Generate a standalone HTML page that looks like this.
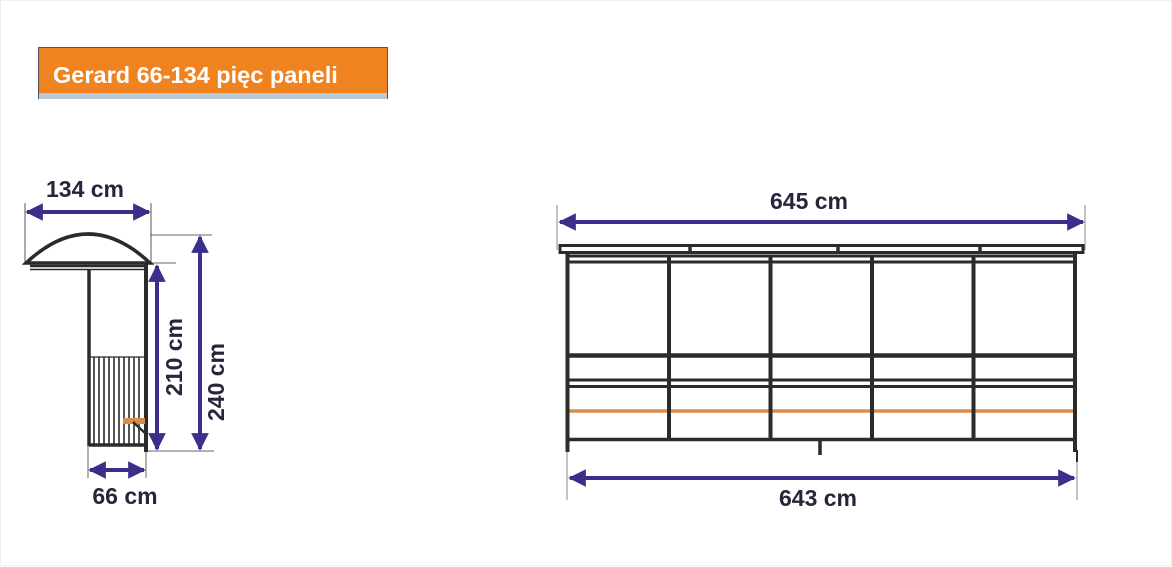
<!DOCTYPE html>
<html><head><meta charset="utf-8"><style>
body{margin:0;background:#fff}
svg{display:block}
text{font-family:"Liberation Sans",sans-serif;font-weight:bold;fill:#26263a}
</style></head><body>
<svg width="1172" height="567" viewBox="0 0 1172 567" xmlns="http://www.w3.org/2000/svg">
<defs>
<marker id="a" viewBox="0 0 10 10" refX="9" refY="5" markerWidth="4.4" markerHeight="4.6" orient="auto-start-reverse"><path d="M0,0L10,5L0,10z" fill="#3a2f8a"/></marker>
</defs>
<rect x="0.5" y="0.5" width="1171" height="565" fill="none" stroke="#eee"/>
<!-- title -->
<rect x="38" y="47" width="350" height="52" fill="#555"/>
<rect x="39" y="48" width="348" height="45" fill="#ee8320"/>
<rect x="39" y="93" width="348" height="6" fill="#b7c9d6"/>
<text x="53" y="83" font-size="23.5" style="fill:#fff">Gerard 66-134 pięc paneli</text>

<g stroke="#2b2b2b" fill="none">
<!-- left view -->
<line x1="25" y1="203" x2="25" y2="262" stroke="#555" stroke-width="1"/>
<line x1="151" y1="203" x2="151" y2="262" stroke="#555" stroke-width="1"/>
<line x1="150" y1="235" x2="212" y2="235" stroke="#666" stroke-width="1"/>
<line x1="150" y1="263" x2="176" y2="263" stroke="#666" stroke-width="1"/>
<line x1="146" y1="451" x2="214" y2="451" stroke="#666" stroke-width="1"/>
<line x1="88" y1="446" x2="88" y2="478" stroke="#666" stroke-width="1"/>
<line x1="146" y1="451" x2="146" y2="478" stroke="#666" stroke-width="1"/>
<path d="M26,263 Q88,205 150,263 Z" stroke-width="3.5" fill="#fff"/>
<line x1="30" y1="266" x2="146" y2="266" stroke-width="2.5"/>
<line x1="30" y1="269.5" x2="146" y2="269.5" stroke-width="1.5"/>
<line x1="89" y1="270" x2="89" y2="446" stroke-width="3.5"/>
<line x1="146" y1="262" x2="146" y2="452" stroke-width="4"/>
<line x1="89" y1="445" x2="146" y2="445" stroke-width="3.5"/>
<line x1="90" y1="357" x2="145" y2="357" stroke-width="1.2"/>
<g stroke-width="1.6">
<line x1="94" y1="357" x2="94" y2="445"/><line x1="99" y1="357" x2="99" y2="445"/><line x1="104" y1="357" x2="104" y2="445"/><line x1="109" y1="357" x2="109" y2="445"/><line x1="114" y1="357" x2="114" y2="445"/><line x1="119" y1="357" x2="119" y2="445"/><line x1="124" y1="357" x2="124" y2="445"/><line x1="129" y1="357" x2="129" y2="445"/><line x1="134" y1="357" x2="134" y2="445"/><line x1="139" y1="357" x2="139" y2="445"/>
</g>
<rect x="123" y="418" width="22" height="6" fill="#d98d4c" stroke="none"/>
<line x1="133" y1="422" x2="145" y2="433" stroke-width="2.5"/>

<!-- right view -->
<line x1="557" y1="205" x2="557" y2="250" stroke="#888" stroke-width="1"/>
<line x1="1085" y1="205" x2="1085" y2="250" stroke="#888" stroke-width="1"/>
<line x1="567" y1="452" x2="567" y2="500" stroke="#888" stroke-width="1"/>
<line x1="1077" y1="462" x2="1077" y2="500" stroke="#888" stroke-width="1"/>
<rect x="560" y="245.5" width="523" height="7" stroke-width="3" fill="#fff"/>
<line x1="690" y1="246" x2="690" y2="252" stroke-width="3.5"/>
<line x1="838" y1="246" x2="838" y2="252" stroke-width="3.5"/>
<line x1="980" y1="246" x2="980" y2="252" stroke-width="3.5"/>
<line x1="567" y1="256" x2="1075" y2="256" stroke-width="3"/>
<line x1="567" y1="262" x2="1075" y2="262" stroke-width="3"/>
<line x1="567" y1="355.5" x2="1075" y2="355.5" stroke-width="4.5"/>
<line x1="567" y1="380" x2="1075" y2="380" stroke-width="3"/>
<line x1="567" y1="386.5" x2="1075" y2="386.5" stroke-width="3"/>
<line x1="567" y1="439.5" x2="1075" y2="439.5" stroke-width="3.5"/>
<line x1="569" y1="411" x2="1073" y2="411" stroke="#d98d4c" stroke-width="3.5"/>
<line x1="567.5" y1="253" x2="567.5" y2="452" stroke-width="4"/>
<line x1="669" y1="256" x2="669" y2="440" stroke-width="4"/>
<line x1="770.5" y1="256" x2="770.5" y2="440" stroke-width="4"/>
<line x1="872" y1="256" x2="872" y2="440" stroke-width="4"/>
<line x1="973.5" y1="256" x2="973.5" y2="440" stroke-width="4"/>
<line x1="1075" y1="253" x2="1075" y2="452" stroke-width="4"/>
<line x1="1077" y1="450" x2="1077" y2="462" stroke-width="2"/>
<line x1="820" y1="440" x2="820" y2="455" stroke-width="3.5"/>
</g>

<!-- arrows -->
<g stroke="#3a2f8a" stroke-width="4" marker-start="url(#a)" marker-end="url(#a)">
<line x1="27" y1="212" x2="149" y2="212"/>
<line x1="157" y1="266" x2="157" y2="449"/>
<line x1="200" y1="237" x2="200" y2="449"/>
<line x1="90" y1="470" x2="144" y2="470"/>
<line x1="560" y1="222" x2="1083" y2="222"/>
<line x1="570" y1="478" x2="1074" y2="478"/>
</g>

<text x="85" y="197" font-size="23" text-anchor="middle">134 cm</text>
<text x="125" y="504" font-size="23" text-anchor="middle">66 cm</text>
<text transform="translate(182,357) rotate(-90)" font-size="23" text-anchor="middle">210 cm</text>
<text transform="translate(224,382) rotate(-90)" font-size="23" text-anchor="middle">240 cm</text>
<text x="809" y="209" font-size="23" text-anchor="middle">645 cm</text>
<text x="818" y="506" font-size="23" text-anchor="middle">643 cm</text>
</svg>
</body></html>
